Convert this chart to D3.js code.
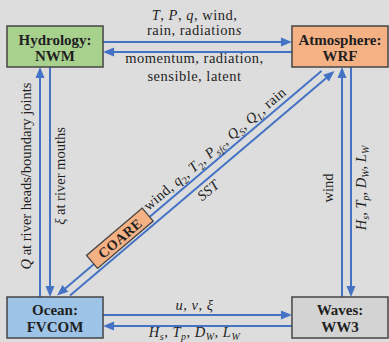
<!DOCTYPE html>
<html>
<head>
<meta charset="utf-8">
<script src="https://cdn.jsdelivr.net/npm/d3@7"></script>
<style>
	body { margin: 0; background: #dddddd; }
	svg { display: block; }
	text { font-family: "Liberation Serif", "Times New Roman", serif; fill: #1f1f1f; }
</style>
</head>
<body>
<svg id="diagram" width="389" height="342"></svg>
<script>

// model components
const components = ['Hydrology', 'Atmosphere', 'Ocean', 'Waves'];
const models = ['NWM', 'WRF', 'FVCOM', 'WW3'];
const columns = ['west', 'east', 'west', 'east'];
const rows = ['top', 'top', 'bottom', 'bottom'];

// exchanged fields: *x* = italic, _{x} = italic subscript, _[x] = upright subscript
const linkSource = ['Hydrology', 'Atmosphere', 'Ocean', 'Hydrology', 'Waves', 'Atmosphere', 'Ocean', 'Waves', 'Atmosphere', 'Ocean'];
const linkTarget = ['Atmosphere', 'Hydrology', 'Hydrology', 'Ocean', 'Atmosphere', 'Waves', 'Waves', 'Ocean', 'Ocean', 'Atmosphere'];
const linkLabel = [
	['*T*, *P*, *q*, wind,', 'rain, radiation*s*'],
	['momentum, radiation,', 'sensible, latent'],
	['*Q* at river heads/boundary joints'],
	['*ξ* at river mouths'],
	['wind'],
	['*H*_{s}, *T*_{p}, *D*_{W}, *L*_{W}'],
	['*u*, *v*, *ξ*'],
	['*H*_{s}, *T*_{p}, *D*_{W}, *L*_{W}'],
	['wind, *q*_[2], *T*_[2], *P*_{sfc}, *Q*_{S}, *Q*_{L}, rain'],
	['*SST*']
];
const linkCoupler = ['', '', '', '', '', '', '', '', 'COARE', ''];

const fill = d3.scaleOrdinal()
	.domain(components.concat(['COARE']))
	.range(['#a9d18e', '#f4b183', '#9dc3e6', '#d3d3d3', '#f4b183']);

const blue = '#4472c4';

let svg = d3.select('#diagram');

let x = d3.scaleBand()
	.domain(['west', 'east'])
	.range([7, 388])
	.paddingInner(0.663);

let y = d3.scaleBand()
	.domain(['top', 'bottom'])
	.range([26, 338])
	.paddingInner(0.8487);

let nodes = components.map((c, i) => ({
	name: c,
	model: models[i],
	x0: x(columns[i]),
	x1: x(columns[i]) + x.bandwidth(),
	y0: y(rows[i]),
	y1: y(rows[i]) + y.bandwidth(),
	col: columns[i],
	row: rows[i]
}));
let byName = {};
nodes.forEach(n => byName[n.name] = n);

// split label markup into pieces
function parse(s)
{
	let out = [];
	let re = /\*([^*]+)\*|_\{([^}]+)\}|_\[([^\]]+)\]|([^*_]+)/g;
	let m;
	while((m = re.exec(s)) !== null)
	{
		if(m[1]) out.push({t: m[1], it: true, sub: false});
		else if(m[2]) out.push({t: m[2], it: true, sub: true});
		else if(m[3]) out.push({t: m[3], it: false, sub: true});
		else out.push({t: m[4], it: false, sub: false});
	}
	return out;
}

function writeLabel(g, str)
{
	let shift = 0;
	parse(str).forEach(p => {
		let want = p.sub ? 3.5 : 0;
		let ts = g.append('tspan')
			.attr('dy', want - shift)
			.style('font-style', p.it ? 'italic' : 'normal')
			.text(p.t);
		if(p.sub) ts.style('font-size', '10px');
		shift = want;
	});
}

function arrow(x1, y1, x2, y2)
{
	let dx = x2 - x1, dy = y2 - y1;
	let len = Math.sqrt(dx*dx + dy*dy);
	let ux = dx/len, uy = dy/len;
	let head = 11, half = 4.5;

	svg.append('line')
		.attr('x1', x1).attr('y1', y1)
		.attr('x2', x2 - ux*(head - 1)).attr('y2', y2 - uy*(head - 1))
		.style('stroke', blue)
		.style('stroke-width', 2);

	let bx = x2 - ux*head, by = y2 - uy*head;
	svg.append('path')
		.attr('d', `M${x2},${y2}L${bx - uy*half},${by + ux*half}L${bx + uy*half},${by - ux*half}Z`)
		.style('fill', blue);
}

let diagAngle = 0;

for(let i = 0; i < linkSource.length; i++)
{
	let s = byName[linkSource[i]];
	let t = byName[linkTarget[i]];
	let lines = linkLabel[i];

	if(s.row == t.row)
	{
		// horizontal pair: eastbound on upper lane
		let east = (t.x0 > s.x0);
		let centre = (s.row == 'top') ? (s.y0 + s.y1)/2 + 0.5 : (s.y0 + s.y1)/2 + 3;
		let half = (s.row == 'top') ? 5 : 5.5;
		let ly = east ? centre - half : centre + half;
		let left = byName[east ? s.name : t.name].x1;
		let right = byName[east ? t.name : s.name].x0;

		if(east) arrow(left, ly, right, ly);
		else arrow(right, ly, left, ly);

		let mid = (left + right)/2 - 3;
		let gap = (s.row == 'top') ? 7 : 5;
		lines.forEach((str, k) => {
			let by = east ? ly - gap - (lines.length - 1 - k)*15.5 : ly + 11 + k*17.5;
			let txt = svg.append('text')
				.attr('x', mid)
				.attr('y', by)
				.attr('text-anchor', 'middle')
				.style('font-size', '14.5px')
				.style('letter-spacing', '0.5px');
			writeLabel(txt, str);
		});
	}
	else if(s.col == t.col)
	{
		// vertical pair: upward on left lane
		let up = (t.y0 < s.y0);
		let centre = (s.col == 'west') ? (s.x0 + s.x1)/2 - 10 : (s.x0 + s.x1)/2 + 6.5;
		let half = (s.col == 'west') ? 5 : 4.5;
		let lx = up ? centre - half : centre + half;
		let top = byName[up ? t.name : s.name].y1;
		let bottom = byName[up ? s.name : t.name].y0;

		if(up) arrow(lx, bottom, lx, top);
		else arrow(lx, top, lx, bottom);

		let bx = up ? lx - 9 : lx + 15;
		let my = (top + bottom)/2 + ((s.col == 'west') ? -6 : 6);
		let txt = svg.append('text')
			.attr('transform', `translate(${bx},${my}) rotate(-90)`)
			.attr('text-anchor', 'middle')
			.style('font-size', '14.5px');
		writeLabel(txt, lines[0]);
	}
	else
	{
		// diagonal pair between ocean corner and atmosphere corner
		let o = (s.row == 'bottom') ? s : t;
		let a = (s.row == 'bottom') ? t : s;
		let oy = o.y0 - 1.5, ay = a.y1 + 4;
		let ox = (o.x0 + o.x1)/2 + 8.5, ax = (a.x0 + a.x1)/2 - 12;
		let northeast = (s === o);
		let h = northeast ? 6.5 : -6.5;
		let p0 = [ox + h, oy], p1 = [ax + h, ay];

		if(northeast) arrow(p0[0], p0[1], p1[0], p1[1]);
		else arrow(p1[0], p1[1], p0[0], p0[1]);

		let ang = Math.atan2(p1[1] - p0[1], p1[0] - p0[0]);
		diagAngle = ang * 180/Math.PI;
		let ux = Math.cos(ang), uy = Math.sin(ang);
		// normal pointing up-left
		let nx = uy, ny = -ux;
		let L = Math.sqrt((p1[0]-p0[0])**2 + (p1[1]-p0[1])**2);

		let along = northeast ? 0.5 : 0.62;
		let off = northeast ? -14 : 5;
		let cx = p0[0] + ux*L*along + nx*off;
		let cy = p0[1] + uy*L*along + ny*off;
		let txt = svg.append('text')
			.attr('transform', `translate(${cx},${cy}) rotate(${diagAngle})`)
			.attr('text-anchor', 'middle')
			.style('font-size', '14.5px')
			.style('letter-spacing', '0.3px');
		writeLabel(txt, lines[0]);

		if(linkCoupler[i] != '')
		{
			let kx = p0[0] + ux*L*0.245 + nx*3;
			let ky = p0[1] + uy*L*0.245 + ny*3;
			let cg = svg.append('g')
				.attr('transform', `translate(${kx},${ky}) rotate(${diagAngle})`);
			cg.append('rect')
				.attr('x', -36.5)
				.attr('y', -8.5)
				.attr('width', 73)
				.attr('height', 17)
				.style('fill', fill(linkCoupler[i]))
				.style('stroke', '#444444')
				.style('stroke-width', 1.3);
			cg.append('text')
				.attr('x', 0)
				.attr('y', 5)
				.attr('text-anchor', 'middle')
				.style('font-size', '14px')
				.style('font-weight', 'bold')
				.style('letter-spacing', '0.5px')
				.text(linkCoupler[i]);
		}
	}
}

// component boxes
let box = svg.selectAll('g.node')
	.data(nodes)
	.enter()
	.append('g')
	.attr('class', 'node');

box.append('rect')
	.attr('x', d => d.x0)
	.attr('y', d => d.y0)
	.attr('width', d => d.x1 - d.x0)
	.attr('height', d => d.y1 - d.y0)
	.style('fill', d => fill(d.name))
	.style('stroke', '#454545')
	.style('stroke-width', 1.5);

box.append('text')
	.attr('x', d => (d.x0 + d.x1)/2)
	.attr('y', d => (d.y0 + d.y1)/2 - 2)
	.attr('text-anchor', 'middle')
	.style('font-size', '15px')
	.style('font-weight', 'bold')
	.text(d => d.name + ':');

box.append('text')
	.attr('x', d => (d.x0 + d.x1)/2)
	.attr('y', d => (d.y0 + d.y1)/2 + 14.5)
	.attr('text-anchor', 'middle')
	.style('font-size', '15px')
	.style('font-weight', 'bold')
	.text(d => d.model);

</script>
</body>
</html>
